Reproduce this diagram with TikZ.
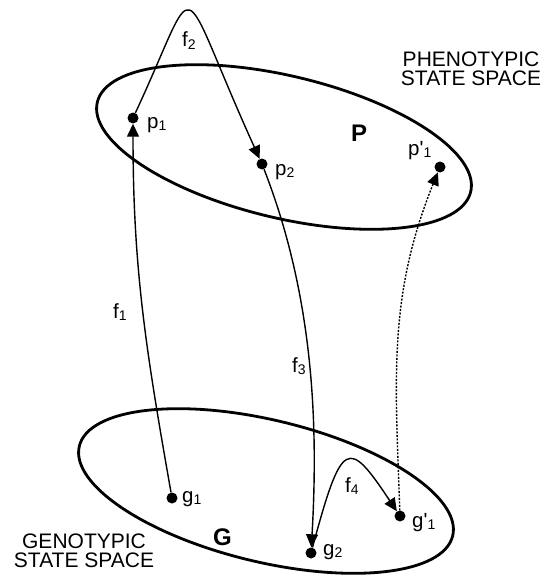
\documentclass[tikz,border=0pt]{standalone}
\usepackage{fontspec}
\setmainfont{Liberation Sans}
\usetikzlibrary{arrows.meta,positioning,shapes.geometric}

\newcommand{\idx}[1]{\raisebox{-0.25ex}{\fontsize{14}{14}\selectfont #1}}

\begin{document}
\begin{tikzpicture}[x=1pt, y=1pt,
  space/.style={draw, ellipse, line width=2.8pt, inner sep=0pt,
    minimum width=384pt, minimum height=142pt, rotate=-13.5},
  dot/.style={circle, fill, inner sep=0pt, minimum size=11pt},
  lbl/.style={anchor=base west, inner sep=0pt, font=\fontsize{20.5}{20}\selectfont},
  big/.style={anchor=base west, inner sep=0pt, font=\fontsize{24}{24}\selectfont\bfseries},
  arr/.style={line width=1.4pt, -{Triangle[length=13pt, width=12pt]}},
  title/.style={align=center, inner sep=0pt, anchor=north, font=\fontsize{21}{19}\selectfont}
]
  \useasboundingbox (0,0) rectangle (547,-578);

  % State spaces
  \node[space] (pspace) at (284,-147) {};
  \node[space] (gspace) at (266,-491) {};
  \node[big] (plbl) at (351,-141) {P};
  \node[big] (glbl) at (213,-545) {G};
  \node[title] (ptitle) at (471,-52) {PHENOTYPIC\\STATE SPACE};
  \node[title] (gtitle) at (84,-534) {GENOTYPIC\\STATE SPACE};

  % Phenotypes
  \node[dot] (p1) at (133,-118) {};
  \node[dot] (p2) at (262,-164) {};
  \node[dot] (pp1) at (440,-167) {};
  \node[lbl] (p1l) at (147,-128) {p\idx{1}};
  \node[lbl] (p2l) at (275,-175) {p\idx{2}};
  \node[lbl] (pp1l) at (408,-155) {p\textquotesingle\idx{1}};

  % Genotypes
  \node[dot] (g1) at (172,-498) {};
  \node[dot] (g2) at (311,-553) {};
  \node[dot] (gg1) at (400,-516) {};
  \node[lbl] (g1l) at (182,-502) {g\idx{1}};
  \node[lbl] (g2l) at (323,-555) {g\idx{2}};
  \node[lbl] (gg1l) at (412,-527) {g\textquotesingle\idx{1}};

  % Maps
  \draw[arr] (g1) to[out=100, in=-90] (p1);
  \draw[arr] (p1) .. controls (202,30) and (174,30) .. (p2);
  \draw[arr] (p2) .. controls (315,-300) and (318,-430) .. (g2);
  \draw[arr] (g2) .. controls (342,-438) and (348,-438) .. (gg1);
  \draw[arr, dash pattern=on 2pt off 1.5pt] (gg1) to[out=92, in=-112] (pp1);
  \node[lbl] (f1) at (113,-318) {f\idx{1}};
  \node[lbl] (f2) at (182,-47) {f\idx{2}};
  \node[lbl] (f3) at (292,-372) {f\idx{3}};
  \node[lbl] (f4) at (345,-492) {f\idx{4}};
\end{tikzpicture}
\end{document}
